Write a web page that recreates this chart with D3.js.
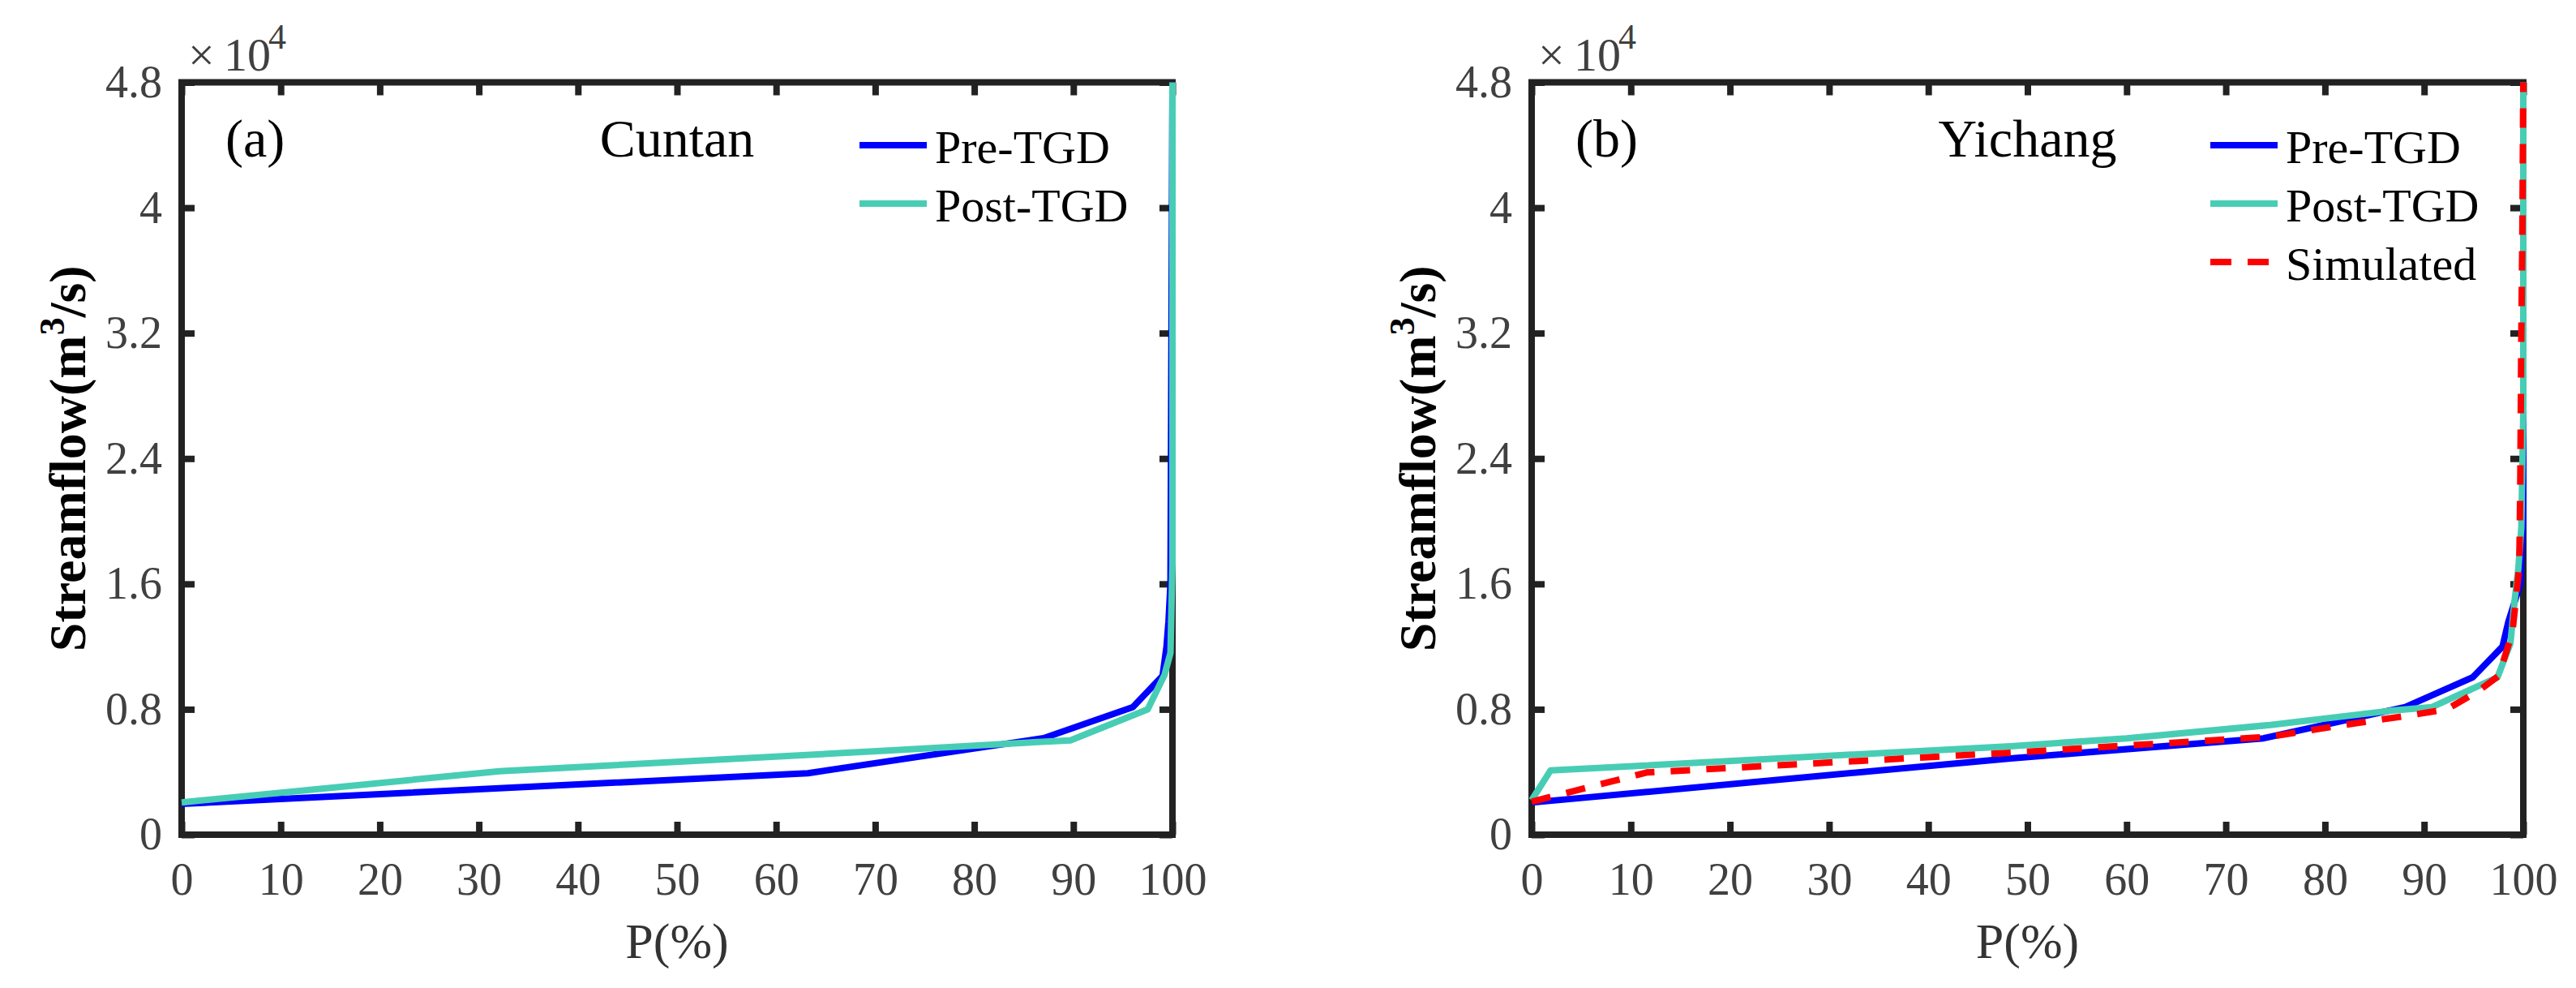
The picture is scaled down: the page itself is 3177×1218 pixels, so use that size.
<!DOCTYPE html>
<html>
<head>
<meta charset="utf-8">
<script src="https://cdn.jsdelivr.net/npm/d3@7"></script>
<style>
body { margin: 0; background: #fff; }
text { font-family: "Liberation Serif", "Times New Roman", serif; }
</style>
</head>
<body>
<script>
const width = 3177;
const height = 1218;

// tick values (P in %, streamflow in m3/s)
const xTicks = [0, 10, 20, 30, 40, 50, 60, 70, 80, 90, 100];
const yTicks = [0, 8000, 16000, 24000, 32000, 40000, 48000];

// Cuntan duration curves [P(%), Q(m3/s)]
const cuntanPre = [[0, 1970], [63.2, 3920], [87, 6160], [96, 8140], [99, 10130],
    [99.4, 12000], [99.6, 13600], [99.8, 16000], [100, 48000]];
const cuntanPost = [[0, 2060], [32.1, 4050], [71.7, 5380], [86, 5900], [89.7, 6020],
    [97.5, 8000], [99.2, 10200], [99.8, 11600], [100, 17300], [100, 48000]];

// Yichang duration curves
const yichangPre = [[0, 2050], [48.3, 4870], [73.8, 6150], [88.1, 8140], [94.9, 10040],
    [97.9, 12000], [98.5, 13600], [99.7, 16000], [100, 20000], [100, 48000]];
const yichangPost = [[0, 2200], [1.9, 4100], [48.3, 5640], [60, 6150], [74.5, 7000],
    [86.5, 7900], [90.8, 8140], [97.4, 10040], [98.7, 12200], [99.1, 14800],
    [99.5, 17000], [99.8, 19600], [100, 27000], [100, 48000]];
const yichangSim = [[0, 2100], [11.6, 3970], [48.3, 5230], [74.5, 6250], [81.3, 6940],
    [88.6, 7620], [92.3, 8000], [95.5, 9180], [97.5, 10130], [98, 11100], [98.9, 12900],
    [99.3, 15300], [99.6, 17200], [99.7, 22800], [99.8, 31900], [99.9, 38000], [100, 48000]];

const panels = [
    {left: 224, right: 1446, tag: "(a)", station: "Cuntan",
     series: [
        {name: "Pre-TGD", data: cuntanPre, color: "#0000ff", dash: null},
        {name: "Post-TGD", data: cuntanPost, color: "#48cdb5", dash: null}
     ]},
    {left: 1889, right: 3112, tag: "(b)", station: "Yichang",
     series: [
        {name: "Pre-TGD", data: yichangPre, color: "#0000ff", dash: null},
        {name: "Post-TGD", data: yichangPost, color: "#48cdb5", dash: null},
        {name: "Simulated", data: yichangSim, color: "#ff0000", dash: "24,20"}
     ]}
];

const plotTop = 101.5, plotBottom = 1029;
const axisColor = "#222222";
const tickColor = "#404040";

let svg = d3.select("body").append("svg")
    .attr("width", width)
    .attr("height", height)
    .style("background", "#fff");

let yScale = d3.scaleLinear().domain([0, 48000]).range([plotBottom, plotTop]);
let yFormat = d => String(+(d / 1e4).toFixed(1));

panels.forEach(p => {
    let xScale = d3.scaleLinear().domain([0, 100]).range([p.left, p.right]);
    let g = svg.append("g");

    // axes with inward ticks
    let xAxis = g.append("g")
        .attr("transform", `translate(0,${plotBottom})`)
        .call(d3.axisBottom(xScale).tickValues(xTicks).tickSize(-16).tickPadding(34));
    let xTop = g.append("g")
        .attr("transform", `translate(0,${plotTop})`)
        .call(d3.axisTop(xScale).tickValues(xTicks).tickSize(-16).tickFormat(""));
    let yAxis = g.append("g")
        .attr("transform", `translate(${p.left},0)`)
        .call(d3.axisLeft(yScale).tickValues(yTicks).tickSize(-16).tickPadding(24).tickFormat(yFormat));
    let yRight = g.append("g")
        .attr("transform", `translate(${p.right},0)`)
        .call(d3.axisRight(yScale).tickValues(yTicks).tickSize(-16).tickFormat(""));

    [xAxis, xTop, yAxis, yRight].forEach(a => {
        a.select(".domain").remove();
        a.selectAll(".tick line")
            .attr("stroke", axisColor)
            .attr("stroke-width", 8);
        a.selectAll(".tick text")
            .attr("fill", tickColor)
            .style("font-size", "56px")
            .style("font-family", "'Liberation Serif', serif");
    });

    // box
    g.append("rect")
        .attr("x", p.left)
        .attr("y", plotTop)
        .attr("width", p.right - p.left)
        .attr("height", plotBottom - plotTop)
        .attr("fill", "none")
        .attr("stroke", axisColor)
        .attr("stroke-width", 8);

    // x10^4 exponent
    let ex = g.append("text")
        .attr("x", p.left + 8)
        .attr("y", 87)
        .attr("fill", tickColor)
        .style("font-size", "58px");
    ex.append("tspan").text("\u00d7");
    ex.append("tspan").attr("x", p.left + 52).text("10");
    ex.append("tspan").attr("x", p.left + 107).attr("dy", -27)
        .style("font-size", "44px").text("4");

    // axis titles
    g.append("text")
        .attr("x", (p.left + p.right) / 2)
        .attr("y", 1181)
        .attr("text-anchor", "middle")
        .attr("fill", "#333")
        .style("font-size", "62px")
        .text("P(%)");

    let yl = g.append("text")
        .attr("transform", `translate(${p.left - 119},${(plotTop + plotBottom) / 2}) rotate(-90)`)
        .attr("text-anchor", "middle")
        .attr("fill", "#000")
        .style("font-size", "64px")
        .style("font-weight", "bold");
    yl.append("tspan").text("Streamflow(m");
    yl.append("tspan").attr("dy", -26).style("font-size", "44px").text("3");
    yl.append("tspan").attr("dy", 26).text("/s)");

    // tag and station name
    g.append("text")
        .attr("x", p.left + 54)
        .attr("y", 193)
        .attr("fill", "#000")
        .style("font-size", "66px")
        .text(p.tag);
    g.append("text")
        .attr("x", (p.left + p.right) / 2)
        .attr("y", 193)
        .attr("text-anchor", "middle")
        .attr("fill", "#000")
        .style("font-size", "66px")
        .text(p.station);

    // curves
    let line = d3.line()
        .x(d => xScale(d[0]))
        .y(d => yScale(d[1]));

    p.series.forEach(s => {
        g.append("path")
            .datum(s.data)
            .attr("d", line)
            .attr("fill", "none")
            .attr("stroke", s.color)
            .attr("stroke-width", 8)
            .attr("stroke-linejoin", "round")
            .attr("stroke-dasharray", s.dash);
    });

    // legend
    let leg = g.append("g")
        .attr("transform", `translate(${p.right - 386},${plotTop + 77.5})`);
    p.series.forEach((s, i) => {
        let row = leg.append("g").attr("transform", `translate(0,${i * 72})`);
        row.append("line")
            .attr("x1", 0).attr("x2", 83)
            .attr("y1", 0).attr("y2", 0)
            .attr("stroke", s.color)
            .attr("stroke-width", 8)
            .attr("stroke-dasharray", s.dash ? "26,20" : null);
        row.append("text")
            .attr("x", 93)
            .attr("y", 22)
            .attr("fill", "#000")
            .style("font-size", "58px")
            .text(s.name);
    });
});
</script>
</body>
</html>
